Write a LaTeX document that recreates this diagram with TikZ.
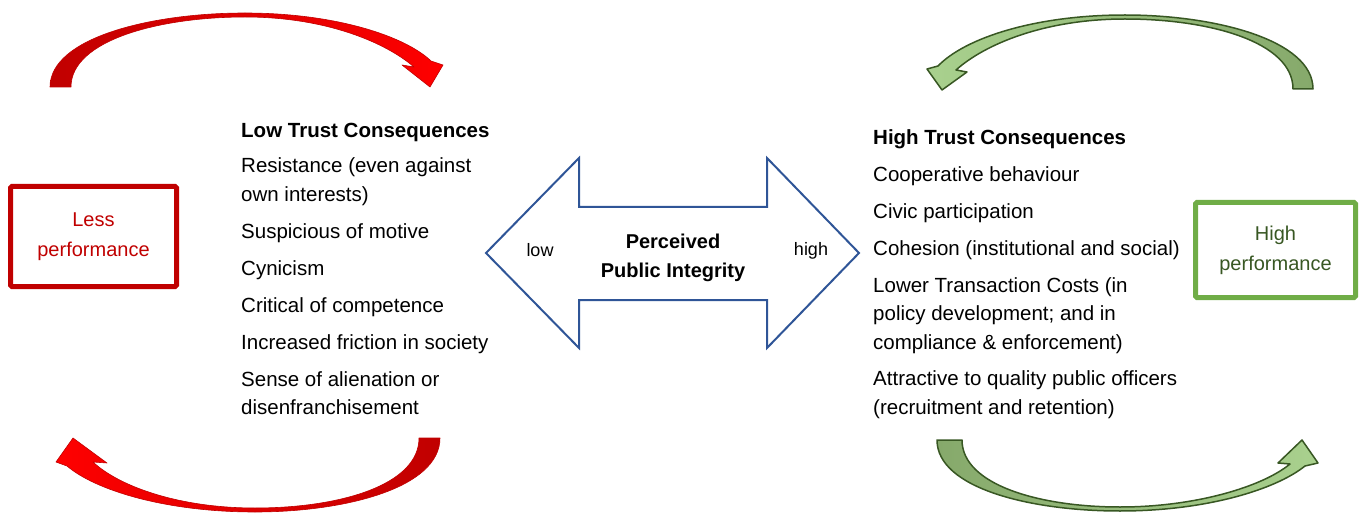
\documentclass[tikz,border=0pt]{standalone}
\usepackage{fontspec}
\setmainfont{Liberation Sans}
\usepackage{xcolor}
\usetikzlibrary{positioning}
\definecolor{lowred}{HTML}{C00000}
\definecolor{brightred}{HTML}{FF0000}
\definecolor{highgreen}{HTML}{70AD47}
\definecolor{darkgreen}{HTML}{385723}
\definecolor{midgreen}{HTML}{86A96B}
\definecolor{lightgreen}{HTML}{A9D18E}
\definecolor{intblue}{HTML}{2F5597}

\begin{document}
\begin{tikzpicture}[x=1pt, y=-1pt,
  trustlist/.style={anchor=north west, align=left, inner sep=0pt, font=\fontsize{20.5}{28.5}\selectfont},
  perfbox/.style={draw, line width=5pt, rounded corners=1.5pt, inner sep=0pt, align=center, font=\fontsize{20}{30}\selectfont},
  redloop/.style={draw=lowred, line width=0.6pt, line join=round},
  greenloop/.style={draw=darkgreen, line width=1.5pt, line join=round}]
\useasboundingbox (0,0) rectangle (1363,513);

% Performance boxes
\node[perfbox, draw=lowred, text=lowred, minimum width=166pt, minimum height=100pt] (lessperf) at (93.5,236.5) {Less\\performance};
\node[perfbox, draw=highgreen, text=darkgreen, minimum width=160pt, minimum height=95pt] (highperf) at (1275.5,250) {High\\performance};

% Consequence lists
\node[trustlist] (lowlist) at (241,123) {\textbf{Low Trust Consequences}\\[6.5pt]
  Resistance (even against\\own interests)\\[8.5pt]
  Suspicious of motive\\[8.5pt]
  Cynicism\\[8.5pt]
  Critical of competence\\[8.5pt]
  Increased friction in society\\[8.5pt]
  Sense of alienation or\\disenfranchisement};
\node[trustlist] (highlist) at (873,129) {\textbf{High Trust Consequences}\\[8.5pt]
  Cooperative behaviour\\[8.5pt]
  Civic participation\\[8.5pt]
  Cohesion (institutional and social)\\[8.5pt]
  Lower Transaction Costs (in\\policy development; and in\\compliance \& enforcement)\\[8pt]
  Attractive to quality public officers\\(recruitment and retention)};

% Double arrow
\draw[intblue, line width=2pt, line join=miter] (486,253) -- (579,158) -- (579,207) -- (767,207) -- (767,158)
  -- (859,253) -- (767,348) -- (767,300) -- (579,300) -- (579,348) -- cycle;
\node[font=\fontsize{20}{29}\selectfont\bfseries, align=center] (integrity) at (673,257.5) {Perceived\\Public Integrity};
\node[font=\fontsize{18}{22}\selectfont] (lowlbl) at (540,250) {low};
\node[font=\fontsize{18}{22}\selectfont] (highlbl) at (811,251) {high};

% Loop arrows, red
\shade[redloop, left color=lowred, right color=brightred] (50,87) .. controls (50,38) and (150,13) .. (245,13)
  .. controls (335,13) and (405,36) .. (431,61) -- (443,65) -- (430,87) -- (402,65) -- (414,67)
  .. controls (385,42) and (325,17) .. (245,17) .. controls (160,17) and (71,40) .. (71,87) -- cycle;
\shade[redloop, left color=brightred, right color=lowred] (440,438) .. controls (440,488) and (345,512) .. (255,512)
  .. controls (165,512) and (95,490) .. (67,466) -- (56,462) -- (73,438) -- (107,463) -- (93,462)
  .. controls (120,487) and (180,508) .. (255,508) .. controls (340,508) and (419,485) .. (419,438) -- cycle;

% Loop arrows, green
\shade[greenloop, left color=lightgreen, right color=midgreen] (1313,89) .. controls (1313,40) and (1215,15) .. (1125,15)
  .. controls (1035,15) and (965,38) .. (938,66) -- (927,69) -- (942,90) -- (967,72) -- (956,70)
  .. controls (985,44) and (1045,19) .. (1125,19) .. controls (1210,19) and (1293,42) .. (1293,89) -- cycle;
\shade[greenloop, left color=midgreen, right color=lightgreen] (937,440) .. controls (937,488) and (1030,511) .. (1120,511)
  .. controls (1205,511) and (1275,490) .. (1305,466) -- (1318,463) -- (1302,440) -- (1278,463) -- (1290,464)
  .. controls (1262,487) and (1195,507) .. (1120,507) .. controls (1040,507) and (962,485) .. (962,440) -- cycle;
\end{tikzpicture}
\end{document}
